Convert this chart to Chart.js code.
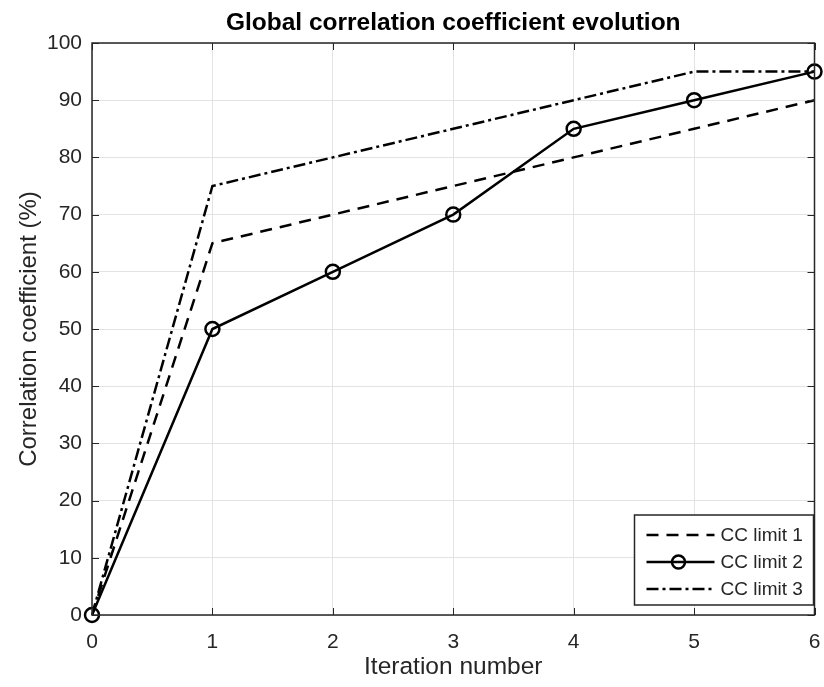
<!DOCTYPE html>
<html><head><meta charset="utf-8">
<script src="https://cdn.jsdelivr.net/npm/chart.js@4"></script>
<style>html,body{margin:0;padding:0;background:#fff}#wrap{width:824px;height:687px}</style>
</head><body><div id="wrap"><canvas id="c" width="824" height="687"></canvas></div>
<script>
const iterations = [0, 1, 2, 3, 4, 5, 6];
const ccLimit1 = [0, 65, 70, 75, 80, 85, 90];
const ccLimit2 = [0, 50, 60, 70, 85, 90, 95];
const ccLimit3 = [0, 75, 80, 85, 90, 95, 95];
const seriesNames = ['CC limit 1', 'CC limit 2', 'CC limit 3'];
const yTicks = [0,10,20,30,40,50,60,70,80,90,100];

const FONT = "'Liberation Sans', Arial, Helvetica, sans-serif";
const dash1 = [12, 8];
const dash3 = [12, 4, 3, 4];

const boxPlugin = {
  id: 'box',
  afterDraw(chart) {
    const {ctx, chartArea: a, scales} = chart;
    ctx.save();
    ctx.strokeStyle = '#262626';
    ctx.lineWidth = 1;
    const tl = 7;
    ctx.beginPath();
    iterations.forEach(v => {
      const x = Math.round(scales.x.getPixelForValue(v)) + 0.5;
      ctx.moveTo(x, a.bottom); ctx.lineTo(x, a.bottom - tl);
      ctx.moveTo(x, a.top); ctx.lineTo(x, a.top + tl);
    });
    yTicks.forEach(v => {
      const y = Math.round(scales.y.getPixelForValue(v)) + 0.5;
      ctx.moveTo(a.left, y); ctx.lineTo(a.left + tl, y);
      ctx.moveTo(a.right, y); ctx.lineTo(a.right - tl, y);
    });
    ctx.stroke();
    ctx.lineWidth = 1.5;
    ctx.strokeRect(a.left, a.top, a.right - a.left, a.bottom - a.top);
    // legend
    const lw = 179, lh = 90;
    const lx = a.right - lw - 1, ly = a.bottom - lh - 10;
    ctx.fillStyle = '#fff';
    ctx.fillRect(lx, ly, lw, lh);
    ctx.lineWidth = 1.5;
    ctx.strokeStyle = '#262626';
    ctx.strokeRect(lx, ly, lw, lh);
    const dashes = [dash1, [], dash3];
    ctx.font = '19px ' + FONT;
    ctx.textBaseline = 'middle';
    ctx.fillStyle = '#262626';
    for (let i = 0; i < 3; i++) {
      const y = ly + 20 + i * 27;
      ctx.strokeStyle = '#000';
      ctx.lineWidth = 2.5;
      ctx.setLineDash(dashes[i]);
      ctx.beginPath(); ctx.moveTo(lx + 12, y); ctx.lineTo(lx + 80, y); ctx.stroke();
      ctx.setLineDash([]);
      if (i === 1) {
        ctx.beginPath(); ctx.arc(lx + 44, y, 6.5, 0, Math.PI * 2); ctx.stroke();
      }
      ctx.fillText(seriesNames[i], lx + 86, y + 1);
    }
    ctx.restore();
  }
};

new Chart(document.getElementById('c'), {
  type: 'line',
  data: {
    labels: iterations,
    datasets: [
      { label: seriesNames[0], data: ccLimit1, borderColor: '#000', borderWidth: 2.5, borderDash: dash1, pointRadius: 0, fill: false, tension: 0 },
      { label: seriesNames[1], data: ccLimit2, borderColor: '#000', borderWidth: 2.5, pointRadius: 7, pointBorderWidth: 2.5, pointBorderColor: '#000', pointBackgroundColor: 'rgba(0,0,0,0)', fill: false, tension: 0, clip: false },
      { label: seriesNames[2], data: ccLimit3, borderColor: '#000', borderWidth: 2.5, borderDash: dash3, pointRadius: 0, fill: false, tension: 0 }
    ]
  },
  options: {
    responsive: false,
    animation: false,
    devicePixelRatio: 1,
    layout: { padding: { top: 0, left: 0, right: 8, bottom: 0 } },
    plugins: {
      legend: { display: false },
      tooltip: { enabled: false },
      title: {
        display: true, text: 'Global correlation coefficient evolution', fullSize: false,
        color: '#000', font: { family: FONT, size: 24.5, weight: 'bold' },
        padding: { top: 8.5, bottom: 5.1 }
      }
    },
    scales: {
      x: {
        type: 'linear', min: 0, max: 6,
        afterFit(s) { s.height = 72; s.paddingLeft = 0; s.paddingRight = 0; },
        afterBuildTicks(s) { s.ticks = iterations.map(v => ({ value: v })); },
        ticks: { padding: 15, color: '#262626', font: { family: FONT, size: 21 } },
        grid: { color: '#e3e3e3', drawTicks: false, lineWidth: 1 },
        border: { display: false },
        title: { display: true, text: 'Iteration number', color: '#262626', font: { family: FONT, size: 24.5 }, padding: { top: 0, bottom: 5.3 } }
      },
      y: {
        type: 'linear', min: 0, max: 100,
        afterFit(s) { s.width = 92; s.paddingTop = 0; s.paddingBottom = 0; },
        afterBuildTicks(s) { s.ticks = yTicks.map(v => ({ value: v })); },
        ticks: { padding: 10, color: '#262626', font: { family: FONT, size: 21 } },
        grid: { color: '#e3e3e3', drawTicks: false, lineWidth: 1 },
        border: { display: false },
        title: { display: true, text: 'Correlation coefficient (%)', color: '#262626', font: { family: FONT, size: 24 }, padding: { top: 14.6, bottom: 0 } }
      }
    }
  },
  plugins: [boxPlugin]
});
</script>
</body></html>
